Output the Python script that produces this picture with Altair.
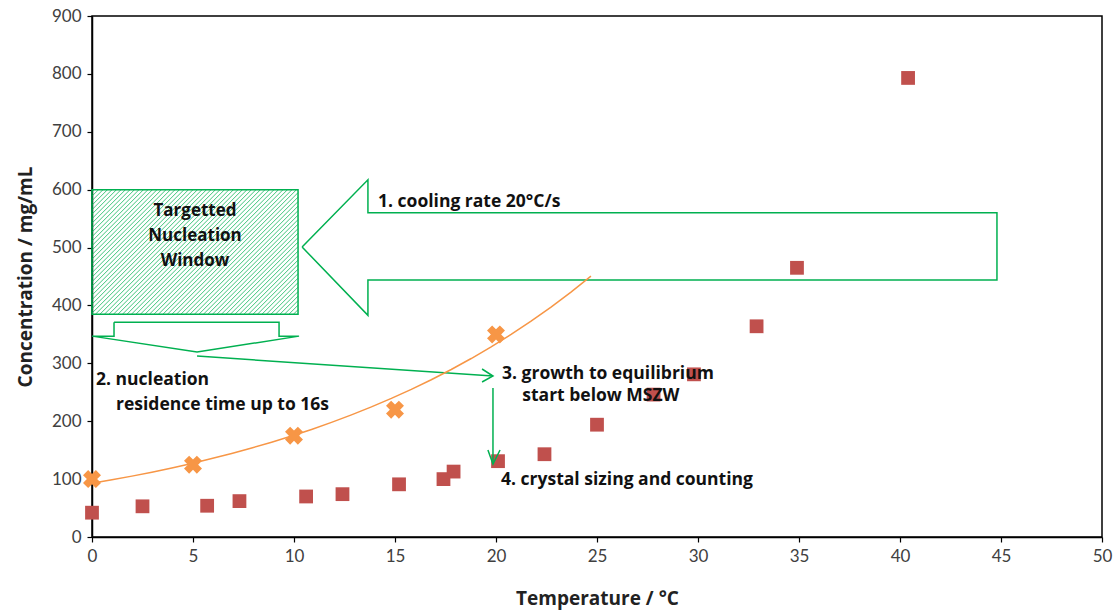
import altair as alt
import pandas as pd

# ---- data ----
sq_x = [0, 2.5, 5.7, 7.3, 10.6, 12.4, 15.2, 17.4, 17.9, 20.1, 22.4, 25.0, 27.8, 29.8, 32.9, 34.9, 40.4]
sq_y = [42, 53, 54, 62, 70, 74, 91, 100, 113, 131, 143, 194, 246, 281, 364, 465, 793]
mszw_x = [0, 5, 10, 15, 20]
mszw_y = [100, 125, 175, 220, 350]

x_ticks = [0, 5, 10, 15, 20, 25, 30, 35, 40, 45, 50]
y_ticks = [0, 100, 200, 300, 400, 500, 600, 700, 800, 900]

# annotation geometry (data units)
win_x = [0, 10.2]
win_y = [385, 600]
arrow1_x = [10.4, 13.66, 13.66, 44.8, 44.8, 13.66, 13.66, 10.4]
arrow1_y = [501, 617, 560, 560, 444, 444, 383, 501]
arrow2_x = [1.09, 9.26, 9.26, 10.25, 5.2, 0, 1.09, 1.09]
arrow2_y = [371, 371, 347, 347, 319.5, 347, 347, 371]
line3_x = [5.2, 19.85]
line3_y = [312.6, 278.1]
head3_x = [19.31, 19.85, 19.31]
head3_y = [290.2, 278.1, 267.7]
line4_x = [19.85, 19.85]
line4_y = [257.3, 126.1]
head4_x = [19.6, 19.85, 20.2]
head4_y = [150.3, 126.1, 150.3]
trend_extent = [0, 24.7]

labels = ["Targetted", "Nucleation", "Window"]
labels_x = [5.1, 5.1, 5.1]
labels_y = [563, 520, 476]
notes = ["1. cooling rate 20°C/s", "2. nucleation", "residence time up to 16s",
         "3. growth to equilibrium", "start below MSZW", "4. crystal sizing and counting"]
notes_x = [14.16, 0.2, 1.19, 20.3, 21.3, 20.25]
notes_y = [578.6, 271, 228, 281.5, 243.5, 98.4]

W, H = 1010, 521
XMAX, YMAX = 50, 900
GREEN = "#00B050"
FONT = "Lato"
TFONT = "Open Sans"

xs = alt.Scale(domain=[0, XMAX], nice=False, zero=False)
ys = alt.Scale(domain=[0, YMAX], nice=False)

# hatch for the window box (decorative, derived from the box bounds)
pxx, pxy = W / XMAX, H / YMAX
Rw = (win_x[1] - win_x[0]) * pxx
Th = (win_y[1] - win_y[0]) * pxy
hatch = []
c = -Rw
while c < Th:
    u0 = max(0.0, -c)
    u1 = min(Rw, Th - c)
    if u1 > u0:
        hatch.append({"x": win_x[0] + u0 / pxx, "y": win_y[0] + (u0 + c) / pxy,
                      "x2": win_x[0] + u1 / pxx, "y2": win_y[0] + (u1 + c) / pxy})
    c += 4.5
hatch_df = pd.DataFrame(hatch)

sq_df = pd.DataFrame({"x": sq_x, "y": sq_y})
ms_df = pd.DataFrame({"x": mszw_x, "y": mszw_y})

def poly(xv, yv, name):
    return pd.DataFrame({"x": xv, "y": yv, "i": list(range(len(xv))), "g": name})

shapes_df = pd.concat([
    poly(arrow1_x, arrow1_y, "a1"), poly(arrow2_x, arrow2_y, "a2"),
    poly(line3_x, line3_y, "l3"), poly(head3_x, head3_y, "h3"),
    poly(line4_x, line4_y, "l4"), poly(head4_x, head4_y, "h4"),
])

base_x = alt.X("x:Q", scale=xs, title="Temperature / °C",
               axis=alt.Axis(values=x_ticks, grid=False, titleY=61, titleBaseline="middle",
                             labelFlush=False))
base_y = alt.Y("y:Q", scale=ys, title="Concentration / mg/mL",
               axis=alt.Axis(values=y_ticks, grid=False, titleX=-67, titleY=H / 2,
                             titleBaseline="middle", titleAngle=-90, labelFlush=False))

hatch_layer = alt.Chart(hatch_df).mark_rule(color=GREEN, strokeWidth=1, opacity=0.75).encode(
    x=alt.X("x:Q", scale=xs), y=alt.Y("y:Q", scale=ys), x2="x2", y2="y2")

win_df = pd.DataFrame({"x": [win_x[0]], "x2": [win_x[1]], "y": [win_y[0]], "y2": [win_y[1]]})
win_layer = alt.Chart(win_df).mark_rect(fill=None, stroke=GREEN, strokeWidth=1.5).encode(
    x=alt.X("x:Q", scale=xs), y=alt.Y("y:Q", scale=ys), x2="x2", y2="y2")

shape_layer = alt.Chart(shapes_df).mark_line(color=GREEN, strokeWidth=1.5).encode(
    x=alt.X("x:Q", scale=xs), y=alt.Y("y:Q", scale=ys), order="i:Q", detail="g:N")

trend = alt.Chart(ms_df).transform_regression(
    "x", "y", method="exp", extent=trend_extent
).mark_line(color="#F79646", strokeWidth=1.5).encode(
    x=alt.X("x:Q", scale=xs), y=alt.Y("y:Q", scale=ys))

squares = alt.Chart(sq_df).mark_point(shape="square", filled=True, size=190,
                                        color="#C0504D", opacity=1).encode(x=base_x, y=base_y)

crosses = alt.Chart(ms_df).mark_point(shape="cross", angle=45, filled=True, size=330,
                                        color="#F79646", opacity=1).encode(
    x=alt.X("x:Q", scale=xs), y=alt.Y("y:Q", scale=ys))

lab_df = pd.DataFrame({"x": labels_x, "y": labels_y, "t": labels})
lab_layer = alt.Chart(lab_df).mark_text(font=TFONT, fontSize=17, fontWeight="bold",
                                          color="#111", align="center", baseline="middle").encode(
    x=alt.X("x:Q", scale=xs), y=alt.Y("y:Q", scale=ys), text="t:N")

note_df = pd.DataFrame({"x": notes_x, "y": notes_y, "t": notes})
note_layer = alt.Chart(note_df).mark_text(font=TFONT, fontSize=17.5, fontWeight="bold",
                                            color="#111", align="left", baseline="middle").encode(
    x=alt.X("x:Q", scale=xs), y=alt.Y("y:Q", scale=ys), text="t:N")

chart = alt.layer(
    squares, hatch_layer, win_layer, shape_layer, trend, crosses, lab_layer, note_layer
).properties(
    width=W, height=H,
    autosize=alt.AutoSizeParams(type="none"),
    padding={"left": 92, "top": 16, "right": 15, "bottom": 73},
    background="white",
).configure_view(
    stroke="black", strokeWidth=1.5
).configure_axis(
    domainColor="black", domainWidth=1.5, tickColor="black", tickSize=5, tickWidth=1.2,
    labelFont=FONT, labelFontSize=17, labelColor="#404040", labelPadding=6,
    titleFont=TFONT, titleFontSize=19, titleFontWeight="bold", titleColor="#222",
)

chart.save("out.html", embed_options={"renderer": "svg", "actions": False})
